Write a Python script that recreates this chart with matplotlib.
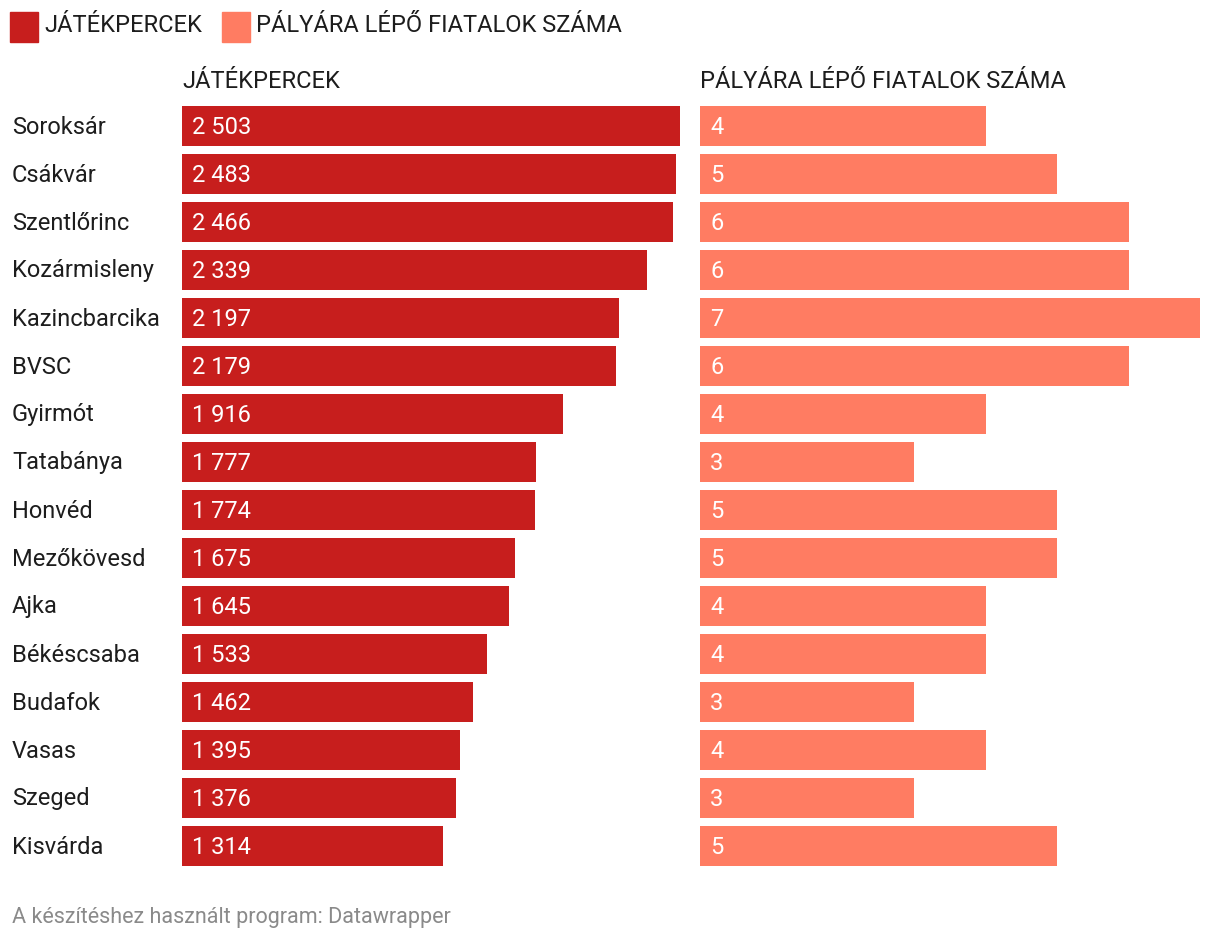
import matplotlib
matplotlib.use("Agg")
import matplotlib.pyplot as plt
from matplotlib.patches import Rectangle

plt.rcParams['font.family'] = ['Roboto', 'DejaVu Sans']

teams = ["Soroksár", "Csákvár", "Szentlőrinc", "Kozármisleny", "Kazincbarcika", "BVSC",
         "Gyirmót", "Tatabánya", "Honvéd", "Mezőkövesd", "Ajka", "Békéscsaba",
         "Budafok", "Vasas", "Szeged", "Kisvárda"]
minutes = [2503, 2483, 2466, 2339, 2197, 2179, 1916, 1777, 1774, 1675, 1645, 1533,
           1462, 1395, 1376, 1314]
players = [4, 5, 6, 6, 7, 6, 4, 3, 5, 5, 4, 4, 3, 4, 3, 5]

col1 = "#c71e1d"
col2 = "#ff7c62"
label1 = "JÁTÉKPERCEK"
label2 = "PÁLYÁRA LÉPŐ FIATALOK SZÁMA"

W, H = 1220, 944
fig = plt.figure(figsize=(W / 100, H / 100), dpi=100)

def fx(px):
    return px / W

def fy(py):
    return 1 - py / H

top, bottom = 106, 866
ax1 = fig.add_axes([fx(182), fy(bottom), fx(680 - 182), (bottom - top) / H])
ax2 = fig.add_axes([fx(700), fy(bottom), fx(1200 - 700), (bottom - top) / H])

n = len(teams)
ys = list(range(n))
bh = 40 / 48
fs = 17

def fmt(v):
    return f"{v:,}".replace(",", " ")

for ax, vals, col, xmax in [(ax1, minutes, col1, max(minutes)), (ax2, players, col2, max(players))]:
    ax.barh(ys, vals, height=bh, color=col)
    ax.set_xlim(0, xmax)
    ax.set_ylim(n - 1 + bh / 2, -bh / 2)
    ax.axis("off")
    for y, v in zip(ys, vals):
        ax.annotate(fmt(v), (0, y), xytext=(10, -1), textcoords="offset pixels",
                    ha="left", va="center", color="white", fontsize=fs)

for y, t in zip(ys, teams):
    ax1.annotate(t, (0, y), xytext=(-170, -1), textcoords="offset pixels",
                 ha="left", va="center", color="#1d1d1d", fontsize=fs)

# column headers
fig.text(fx(182), fy(82), label1, ha="left", va="center", fontsize=fs, color="#1d1d1d")
fig.text(fx(700), fy(82), label2, ha="left", va="center", fontsize=fs, color="#1d1d1d")

# legend
fig.patches.append(Rectangle((fx(10), fy(42)), fx(28), 30 / H, color=col1, transform=fig.transFigure))
fig.text(fx(44), fy(26), label1, ha="left", va="center", fontsize=fs, color="#1d1d1d")
fig.patches.append(Rectangle((fx(222), fy(42)), fx(28), 30 / H, color=col2, transform=fig.transFigure))
fig.text(fx(256), fy(26), label2, ha="left", va="center", fontsize=fs, color="#1d1d1d")

fig.text(fx(12), fy(918), "A készítéshez használt program: Datawrapper", ha="left", va="center",
         fontsize=15.5, color="#8a8a8a")

fig.savefig("out.png", dpi=100)
